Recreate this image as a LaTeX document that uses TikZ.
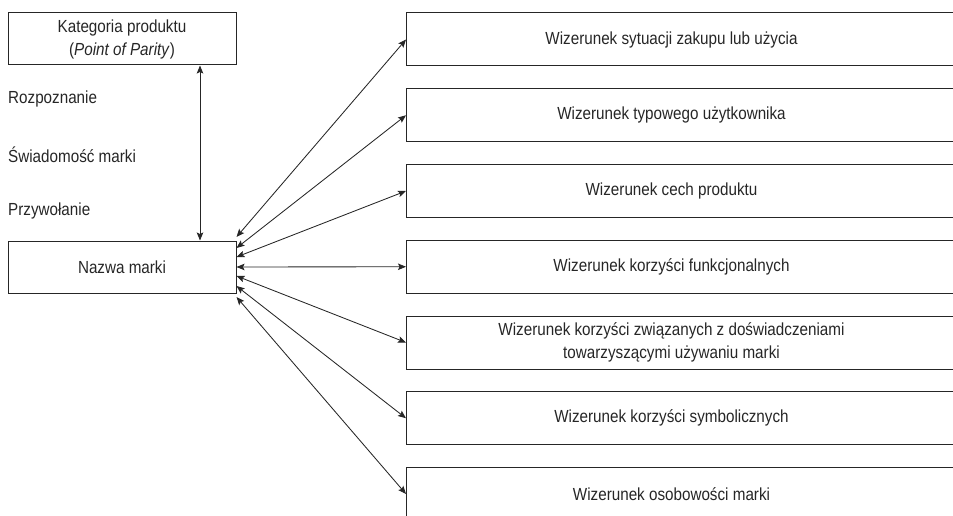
\documentclass[tikz,border=0pt]{standalone}
\usepackage{fontspec}
\setmainfont{Liberation Sans}[FakeStretch=0.87]
\usetikzlibrary{arrows.meta}

\begin{document}
\begin{tikzpicture}[x=1pt,y=-1pt,
    font=\fontsize{17.5}{23}\selectfont,
    every node/.style={text=black!85},
    box/.style={draw=black!85, line width=1pt, minimum width=228pt, minimum height=52pt, inner sep=0pt, align=center},
    imgbox/.style={draw=black!85, line width=1pt, anchor=west, minimum width=600pt, minimum height=53pt, inner sep=0pt},
    imgtext/.style={xshift=-35pt, align=center},
    lbl/.style={anchor=base west, inner sep=0pt},
    conn/.style={{Stealth[length=8pt,width=6.5pt,inset=1.5pt]}-{Stealth[length=8pt,width=6.5pt,inset=1.5pt]}, line width=0.85pt, draw=black!85}]
    \useasboundingbox (0,0) rectangle (953,516);

    % Left column
    \node[box] (kat) at (122,39) {Kategoria produktu\\(\textit{Point of Parity})};
    \node[box] (naz) at (122,267) {Nazwa marki};

    % Brand awareness labels
    \node[lbl] (rozp) at (8,104) {Rozpoznanie};
    \node[lbl] (swiad) at (8,163) {Świadomość marki};
    \node[lbl] (przyw) at (8,215) {Przywołanie};

    % Right column: brand image boxes
    \foreach \i/\txt in {1/Wizerunek sytuacji zakupu lub użycia,
                         2/Wizerunek typowego użytkownika,
                         3/Wizerunek cech produktu,
                         4/Wizerunek korzyści funkcjonalnych,
                         5/{Wizerunek korzyści związanych z doświadczeniami\\towarzyszącymi używaniu marki},
                         6/Wizerunek korzyści symbolicznych,
                         7/Wizerunek osobowości marki}
        \node[imgbox, label={[imgtext]center:{\txt}}] (w\i) at (406,{39.5+75.75*(\i-1)}) {};

    % Arrows
    \draw[conn] ([xshift=78pt]kat.south) -- ([xshift=78pt]naz.north);
    \foreach \i/\dy in {1/30,2/19,3/10,4/0,5/-9,6/-19,7/-30}
        \draw[conn] ([yshift=\dy pt]naz.east) -- (w\i.west);
\end{tikzpicture}
\end{document}
